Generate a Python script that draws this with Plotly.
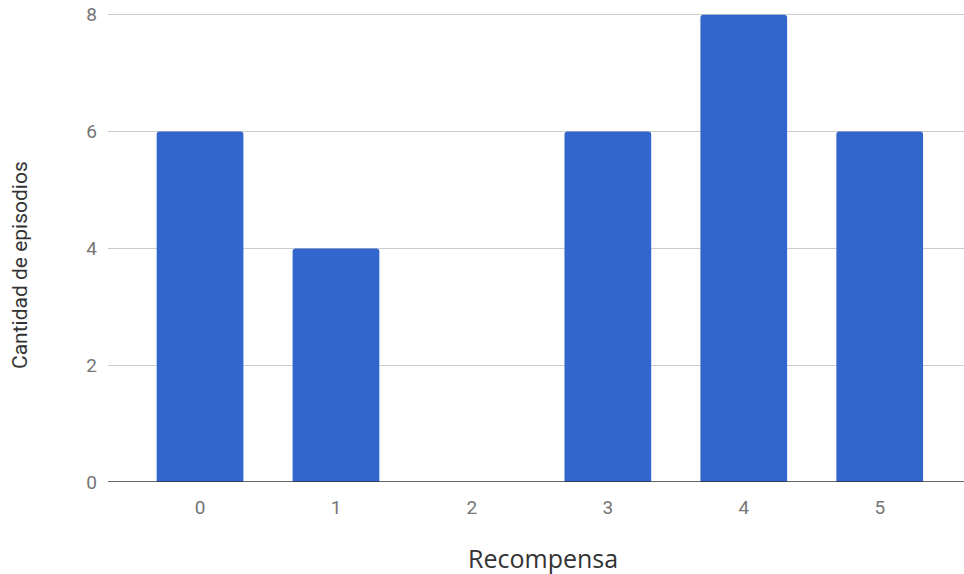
import plotly.graph_objects as go

categories = ["0", "1", "2", "3", "4", "5"]
x_values = [0, 1, 2, 3, 4, 5]
episodes = [6, 4, 0, 6, 8, 6]
y_ticks = [0, 2, 4, 6, 8]

fig = go.Figure()
fig.add_trace(go.Bar(
    x=x_values, y=episodes, width=0.638,
    marker=dict(color="#3366cc", line=dict(width=0), cornerradius=3),
    hoverinfo="skip",
))

fig.update_layout(
    width=964, height=574,
    margin=dict(l=108, r=0, t=13, b=92, autoexpand=False),
    plot_bgcolor="white", paper_bgcolor="white",
    font=dict(family="Roboto, Arial, sans-serif", size=19, color="#757575"),
    showlegend=False,
    hovermode=False,
    xaxis=dict(
        range=[-0.677, 5.62], tickmode="array", tickvals=x_values, ticktext=categories,
        showgrid=False, zeroline=False, showline=False, ticks="",
        ticklabelstandoff=12, automargin=False,
    ),
    yaxis=dict(
        range=[0, 8.03], tickmode="array", tickvals=y_ticks,
        showgrid=True, gridcolor="#cccccc", gridwidth=1,
        zeroline=False, showline=False, ticks="",
        ticklabelstandoff=10, ticklabeloverflow="allow", automargin=False,
    ),
    shapes=[dict(type="line", xref="paper", yref="y", x0=0, x1=1, y0=0, y1=0,
                 line=dict(color="#333333", width=1.5))],
    annotations=[
        dict(text="Recompensa", xref="paper", yref="paper", x=0.508, y=-0.162,
             xanchor="center", yanchor="middle", showarrow=False,
             font=dict(family="Open Sans, Roboto, sans-serif", size=25, color="#333333")),
        dict(text="Cantidad de episodios", xref="paper", yref="paper", x=-0.1028, y=0.4627,
             xanchor="center", yanchor="middle", showarrow=False, textangle=-90,
             font=dict(family="Roboto, Arial, sans-serif", size=21, color="#333333")),
    ],
)

fig.write_html("out.html", config={"displayModeBar": False, "staticPlot": True},
               post_script="document.body.style.margin='0';")
